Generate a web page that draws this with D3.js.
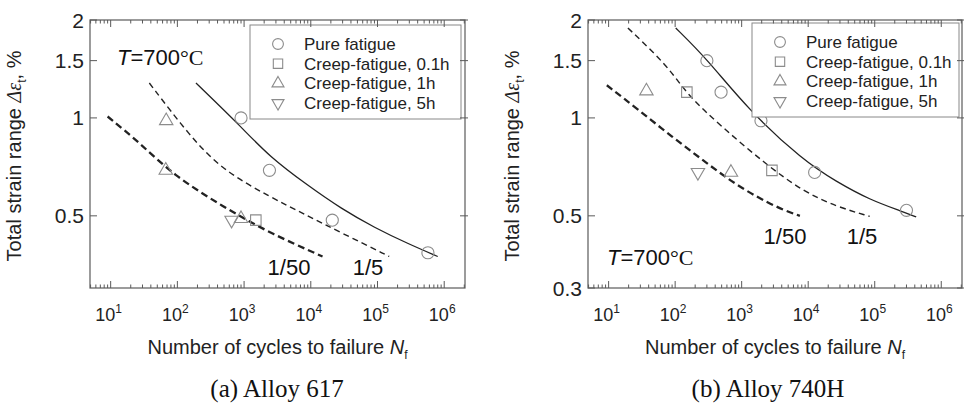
<!DOCTYPE html>
<html>
<head>
<meta charset="utf-8">
<script src="https://cdn.jsdelivr.net/npm/d3@7"></script>
<style>
  body { margin: 0; background: #fff; }
  svg { display: block; font-family: Arial, "Liberation Sans", sans-serif; }
</style>
</head>
<body>
<svg id="chart" width="964" height="407"></svg>
<script>
// tick values
const xTicks = [10, 100, 1000, 1e4, 1e5, 1e6]
const xTickExp = ["1", "2", "3", "4", "5", "6"]
const yTicksA = [0.5, 1, 1.5, 2]
const yTicksB = [0.3, 0.5, 1, 1.5, 2]

const seriesNames = ["Pure fatigue", "Creep-fatigue, 0.1h", "Creep-fatigue, 1h", "Creep-fatigue, 5h"]

// (a) Alloy 617 : [cycles, strain %]
const a617Pure = [[900, 1.0], [2400, 0.69], [21000, 0.485], [570000, 0.385]]
const a617CF01 = [[1500, 0.485]]
const a617CF1 = [[68, 0.98], [67, 0.69], [900, 0.49]]
const a617CF5 = [[650, 0.485]]
const a617FitPure = [[190, 1.28], [900, 0.94], [2400, 0.76], [9000, 0.62], [29000, 0.525], [90000, 0.46], [290000, 0.41], [800000, 0.375]]
const a617Fit5 = [[38, 1.28], [153, 0.88], [480, 0.69], [2400, 0.573], [9000, 0.50], [29000, 0.443], [150000, 0.375]]
const a617Fit50 = [[9, 1.01], [27, 0.84], [86, 0.668], [480, 0.534], [2400, 0.443], [15000, 0.375]]

// (b) Alloy 740H
const b740Pure = [[300, 1.5], [490, 1.2], [1950, 0.98], [12500, 0.68], [300000, 0.52]]
const b740CF01 = [[150, 1.2], [2850, 0.69]]
const b740CF1 = [[37, 1.21], [690, 0.68]]
const b740CF5 = [[220, 0.68]]
const b740FitPure = [[102, 1.89], [300, 1.52], [1250, 1.06], [8400, 0.74], [26500, 0.637], [84000, 0.56], [264000, 0.515], [420000, 0.496]]
const b740Fit5 = [[19.5, 1.89], [79, 1.44], [150, 1.18], [500, 0.94], [2200, 0.726], [8400, 0.594], [26500, 0.534], [84000, 0.498]]
const b740Fit50 = [[9.4, 1.26], [28, 1.06], [89, 0.876], [280, 0.734], [880, 0.615], [3500, 0.528], [7500, 0.50]]

const svg = d3.select("#chart")
const markColor = "#8c8c8c"
const frameColor = "#5a5a5a"

function symbolPath(kind, size) {
    if (kind == "circle") return d3.symbol(d3.symbolCircle, size)()
    if (kind == "square") return d3.symbol(d3.symbolSquare, size)()
    return d3.symbol(d3.symbolTriangle, size)()
}

function drawPanel(cfg) {
    const x = d3.scaleLog().domain([4.9, 2.05e6]).range([cfg.left, cfg.right])
    const y = d3.scaleLog().domain([0.3, 2]).range([288, 20])
    const g = svg.append("g")
    const top = 20, bottom = 288

    // curves
    const line = d3.line()
        .x(d => x(d[0]))
        .y(d => y(d[1]))
        .curve(d3.curveBasis)

    g.append("path").attr("d", line(cfg.fitPure))
        .attr("fill", "none").attr("stroke", "#222").attr("stroke-width", 1.3)
    g.append("path").attr("d", line(cfg.fit5))
        .attr("fill", "none").attr("stroke", "#222").attr("stroke-width", 1.4)
        .attr("stroke-dasharray", "6,4")
    g.append("path").attr("d", line(cfg.fit50))
        .attr("fill", "none").attr("stroke", "#222").attr("stroke-width", 2.3)
        .attr("stroke-dasharray", "7,4")

    // markers
    const sets = [
        { data: cfg.pure, kind: "circle", size: 115, rot: 0 },
        { data: cfg.cf01, kind: "square", size: 110, rot: 0 },
        { data: cfg.cf1, kind: "triangle", size: 78, rot: 0 },
        { data: cfg.cf5, kind: "triangle", size: 78, rot: 180 }
    ]
    for (const s of sets) {
        g.append("g").selectAll("path")
            .data(s.data)
            .join("path")
            .attr("d", symbolPath(s.kind, s.size))
            .attr("transform", d => `translate(${x(d[0])},${y(d[1])}) rotate(${s.rot})`)
            .attr("fill", "none")
            .attr("stroke", markColor)
            .attr("stroke-width", 1.1)
    }

    // legend
    const lg = g.append("g")
    lg.append("rect")
        .attr("x", cfg.legX).attr("y", cfg.legY)
        .attr("width", cfg.legW).attr("height", 94)
        .attr("fill", "#fff").attr("stroke", "#888").attr("stroke-width", 1)
    sets.forEach((s, i) => {
        const cy = cfg.legY + 19 + i * 19.7
        lg.append("path")
            .attr("d", symbolPath(s.kind, s.size * 0.8))
            .attr("transform", `translate(${cfg.legX + 28},${cy}) rotate(${s.rot})`)
            .attr("fill", "none").attr("stroke", markColor).attr("stroke-width", 1.1)
        lg.append("text")
            .attr("x", cfg.legX + 54).attr("y", cy + 6)
            .attr("font-size", 17).attr("fill", "#222")
            .text(seriesNames[i])
    })

    // frame
    g.append("rect")
        .attr("x", cfg.left).attr("y", top)
        .attr("width", cfg.right - cfg.left).attr("height", bottom - top)
        .attr("fill", "none").attr("stroke", frameColor).attr("stroke-width", 1.2)

    // log ticks on top and bottom, pointing inward
    let minor = []
    for (let e = 0; e <= 6; e++) {
        for (let m = 2; m <= 9; m++) {
            const v = m * Math.pow(10, e)
            if (v > x.domain()[0] && v < x.domain()[1]) minor.push(v)
        }
    }
    const tk = g.append("g").attr("stroke", frameColor).attr("stroke-width", 1)
    tk.selectAll("line.mb").data(minor).join("line")
        .attr("x1", d => x(d)).attr("x2", d => x(d))
        .attr("y1", bottom).attr("y2", bottom - 3.5)
    tk.selectAll("line.mt").data(minor).join("line")
        .attr("x1", d => x(d)).attr("x2", d => x(d))
        .attr("y1", top).attr("y2", top + 3.5)
    tk.selectAll("line.Mb").data(xTicks).join("line")
        .attr("x1", d => x(d)).attr("x2", d => x(d))
        .attr("y1", bottom).attr("y2", bottom - 7)
    tk.selectAll("line.Mt").data(xTicks).join("line")
        .attr("x1", d => x(d)).attr("x2", d => x(d))
        .attr("y1", top).attr("y2", top + 7)

    // y ticks both sides inward
    tk.selectAll("line.yl").data(cfg.yTicks).join("line")
        .attr("x1", cfg.left).attr("x2", cfg.left + 7)
        .attr("y1", d => y(d)).attr("y2", d => y(d))
    tk.selectAll("line.yr").data(cfg.yTicks).join("line")
        .attr("x1", cfg.right + 3).attr("x2", cfg.right - 5)
        .attr("y1", d => y(d)).attr("y2", d => y(d))

    // x tick labels
    const xl = g.append("g").attr("font-size", 18).attr("fill", "#222")
    xTicks.forEach((v, i) => {
        const t = xl.append("text")
            .attr("x", x(v) - 2).attr("y", 321)
            .attr("text-anchor", "middle")
        t.append("tspan").text("10")
        t.append("tspan").attr("dy", -8).attr("font-size", 12).text(xTickExp[i])
    })

    // y tick labels
    g.append("g").selectAll("text")
        .data(cfg.yTicks)
        .join("text")
        .attr("x", cfg.left - 6)
        .attr("y", d => y(d) + 7.5)
        .attr("text-anchor", "end")
        .attr("font-size", 21)
        .attr("fill", "#222")
        .text(d => d)

    // axis titles
    const mid = (cfg.left + cfg.right) / 2
    const xt = g.append("text")
        .attr("x", mid).attr("y", 354)
        .attr("text-anchor", "middle")
        .attr("font-size", 20).attr("fill", "#222")
    xt.append("tspan").text("Number of cycles to failure ")
    xt.append("tspan").attr("font-style", "italic").text("N")
    xt.append("tspan").attr("dy", 5).attr("font-size", 12).text("f")

    const yt = g.append("text")
        .attr("transform", `translate(${cfg.left - 69},156) rotate(-90)`)
        .attr("text-anchor", "middle")
        .attr("font-size", 20).attr("fill", "#222")
    yt.append("tspan").text("Total strain range ")
    yt.append("tspan").attr("font-style", "italic")
        .attr("font-family", "'Liberation Serif', 'Times New Roman', serif").text("Δε")
    yt.append("tspan").attr("dy", 5).attr("font-size", 12).text("t")
    yt.append("tspan").attr("dy", -5).text(", %")

    // curve labels
    g.append("text").attr("x", cfg.lab50[0]).attr("y", cfg.lab50[1])
        .attr("text-anchor", "middle").attr("font-size", 22).attr("fill", "#111").text("1/50")
    g.append("text").attr("x", cfg.lab5[0]).attr("y", cfg.lab5[1])
        .attr("text-anchor", "middle").attr("font-size", 22).attr("fill", "#111").text("1/5")

    // temperature
    const tt = g.append("text").attr("x", cfg.temp[0]).attr("y", cfg.temp[1])
        .attr("font-size", 22).attr("fill", "#111")
    tt.append("tspan").attr("font-style", "italic").text("T")
    tt.append("tspan").text("=700")
    tt.append("tspan").attr("font-family", "'Liberation Serif', 'Times New Roman', serif").text("°C")

    // caption
    g.append("text").attr("x", cfg.capX).attr("y", 397)
        .attr("text-anchor", "middle")
        .attr("font-family", "'Liberation Serif', 'Times New Roman', serif")
        .attr("font-size", 25).attr("fill", "#111")
        .text(cfg.caption)
}

drawPanel({
    left: 90, right: 465, yTicks: yTicksA,
    pure: a617Pure, cf01: a617CF01, cf1: a617CF1, cf5: a617CF5,
    fitPure: a617FitPure, fit5: a617Fit5, fit50: a617Fit50,
    legX: 250, legY: 25, legW: 211,
    lab50: [289, 275], lab5: [368, 275],
    temp: [117, 65],
    capX: 277, caption: "(a) Alloy 617"
})

drawPanel({
    left: 588, right: 962, yTicks: yTicksB,
    pure: b740Pure, cf01: b740CF01, cf1: b740CF1, cf5: b740CF5,
    fitPure: b740FitPure, fit5: b740Fit5, fit50: b740Fit50,
    legX: 752, legY: 23, legW: 207,
    lab50: [785, 244], lab5: [862, 244],
    temp: [607, 265],
    capX: 768, caption: "(b) Alloy 740H"
})
</script>
</body>
</html>
